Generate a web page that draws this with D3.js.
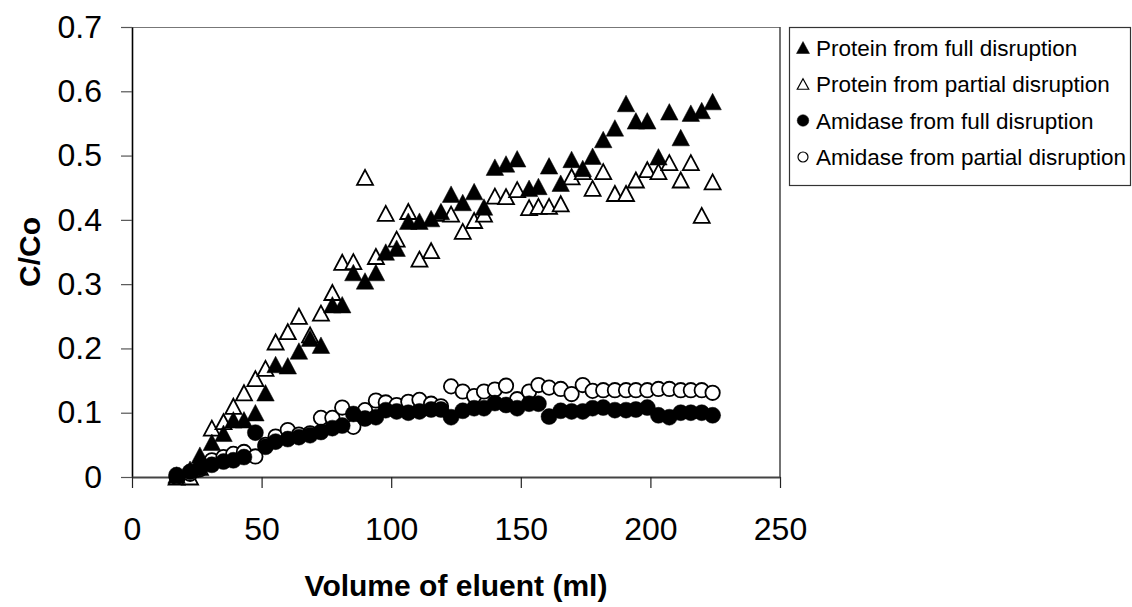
<!DOCTYPE html>
<html>
<head>
<meta charset="utf-8">
<script src="https://cdn.jsdelivr.net/npm/d3@7"></script>
<style>
    body { margin: 0; background: #fff; }
    svg { display: block; font-family: "Liberation Sans", Arial, sans-serif; }
</style>
</head>
<body>
<svg id="chart" width="1132" height="607"></svg>
<script>
// volume of eluent (ml)
const volume = [17.2, 22.4, 26.2, 30.8, 35.3, 39.1, 43.2, 47.6, 51.5, 55.4,
    60.1, 64.4, 68.7, 72.9, 77.3, 81.1, 85.4, 89.9, 94.1, 97.9,
    102.1, 106.6, 110.9, 115.4, 119.2, 123.1, 127.6, 132.0, 135.8, 140.0,
    144.3, 148.6, 153.2, 156.8, 160.9, 165.4, 169.6, 173.9, 177.7, 181.8,
    186.3, 190.6, 194.4, 198.8, 203.1, 207.3, 211.7, 215.6, 219.8, 224.0];

const proteinFull = [0.003, 0.012, 0.034, 0.054, 0.068, 0.089, 0.089, 0.100, 0.131, 0.175,
    0.173, 0.196, 0.216, 0.205, 0.268, 0.268, 0.318, 0.305, 0.318, 0.350,
    0.356, 0.398, 0.398, 0.402, 0.413, 0.440, 0.427, 0.444, 0.420, 0.482,
    0.487, 0.495, 0.449, 0.452, 0.484, 0.457, 0.494, 0.480, 0.499, 0.525,
    0.543, 0.581, 0.554, 0.554, 0.498, 0.568, 0.528, 0.566, 0.570, 0.584];

const proteinPartial = [0.000, 0.000, 0.015, 0.076, 0.086, 0.110, 0.131, 0.153, 0.169, 0.210,
    0.226, 0.250, 0.221, 0.255, 0.287, 0.334, 0.335, 0.466, 0.343, 0.410,
    0.370, 0.413, 0.339, 0.352, 0.410, 0.409, 0.382, 0.399, 0.409, 0.437,
    0.436, 0.447, 0.419, 0.421, 0.421, 0.425, 0.467, 0.475, 0.449, 0.475,
    0.441, 0.441, 0.462, 0.478, 0.475, 0.489, 0.462, 0.489, 0.407, 0.459];

const amidaseFull = [0.003, 0.008, 0.014, 0.019, 0.024, 0.026, 0.031, 0.069, 0.047, 0.055,
    0.059, 0.062, 0.065, 0.070, 0.076, 0.080, 0.098, 0.091, 0.093, 0.104,
    0.102, 0.100, 0.102, 0.105, 0.105, 0.093, 0.103, 0.107, 0.107, 0.115,
    0.112, 0.107, 0.114, 0.114, 0.094, 0.103, 0.102, 0.102, 0.107, 0.108,
    0.104, 0.104, 0.105, 0.108, 0.096, 0.093, 0.100, 0.100, 0.100, 0.096];

const amidasePartial = [0.000, 0.005, 0.012, 0.026, 0.031, 0.036, 0.039, 0.032, 0.050, 0.063,
    0.073, 0.066, 0.068, 0.092, 0.092, 0.108, 0.078, 0.104, 0.119, 0.116,
    0.112, 0.117, 0.120, 0.114, 0.110, 0.141, 0.133, 0.126, 0.133, 0.136,
    0.142, 0.121, 0.133, 0.143, 0.139, 0.137, 0.129, 0.143, 0.134, 0.135,
    0.135, 0.135, 0.135, 0.135, 0.137, 0.137, 0.135, 0.135, 0.135, 0.131];

const xTicks = [0, 50, 100, 150, 200, 250];
const yTicks = [0, 0.1, 0.2, 0.3, 0.4, 0.5, 0.6, 0.7];

const legendLabels = [
    "Protein from full disruption",
    "Protein from partial disruption",
    "Amidase from full disruption",
    "Amidase from partial disruption"
];

const svg = d3.select("#chart");
const plot = {left: 132, right: 780, top: 27, bottom: 477};

const x = d3.scaleLinear().domain([0, 250]).range([plot.left, plot.right]);
const y = d3.scaleLinear().domain([0, 0.7]).range([plot.bottom, plot.top]);

// frame: top and right borders
svg.append("line")
    .attr("x1", plot.left).attr("x2", plot.right)
    .attr("y1", plot.top + 0.5).attr("y2", plot.top + 0.5)
    .attr("stroke", "#777").attr("stroke-width", 1.2);
svg.append("line")
    .attr("x1", plot.right).attr("x2", plot.right)
    .attr("y1", plot.top).attr("y2", plot.bottom)
    .attr("stroke", "#444").attr("stroke-width", 1.5);

// axes
const yAxis = svg.append("g")
    .attr("transform", `translate(${plot.left},0)`)
    .call(d3.axisLeft(y).tickValues(yTicks).tickSize(11).tickSizeOuter(0).tickPadding(19)
        .tickFormat(d => d === 0 ? "0" : d3.format(".1f")(d)));
yAxis.select(".domain").attr("stroke", "#000").attr("stroke-width", 1.6);
yAxis.selectAll(".tick line").attr("stroke", "#555").attr("stroke-width", 1.2);
yAxis.selectAll(".tick text")
    .attr("font-size", 32).attr("fill", "#000")
    .style("font-family", "'Liberation Sans', Arial, sans-serif");

const xAxis = svg.append("g")
    .attr("transform", `translate(0,${plot.bottom})`)
    .call(d3.axisBottom(x).tickValues(xTicks).tickSize(11).tickSizeOuter(0).tickPadding(29));
xAxis.select(".domain").attr("stroke", "#444").attr("stroke-width", 2.2);
xAxis.selectAll(".tick line").attr("stroke", "#222").attr("stroke-width", 1.2);
xAxis.selectAll(".tick text")
    .attr("font-size", 32).attr("fill", "#000")
    .style("font-family", "'Liberation Sans', Arial, sans-serif");

// axis titles
svg.append("text")
    .attr("x", (plot.left + plot.right) / 2)
    .attr("y", 596)
    .attr("text-anchor", "middle")
    .attr("font-size", 30)
    .attr("font-weight", "bold")
    .text("Volume of eluent (ml)");

svg.append("text")
    .attr("transform", `translate(40,${(plot.top + plot.bottom) / 2}) rotate(-90)`)
    .attr("text-anchor", "middle")
    .attr("font-size", 30)
    .attr("font-weight", "bold")
    .text("C/Co");

// markers
function trianglePath(w, h) {
    return `M0,${-h / 2}L${w / 2},${h / 2}L${-w / 2},${h / 2}Z`;
}

const marks = svg.append("g");

function drawSeries(values, shape, filled) {
    const pts = volume.map((v, i) => ({v: v, c: values[i]}));
    const sel = marks.append("g").selectAll("path")
        .data(pts)
        .join(shape === "triangle" ? "path" : "circle");
    if (shape === "triangle") {
        sel.attr("transform", d => `translate(${x(d.v)},${y(d.c)})`)
            .attr("d", filled ? trianglePath(17.5, 16.5) : trianglePath(16, 15));
    } else {
        sel.attr("cx", d => x(d.v))
            .attr("cy", d => y(d.c))
            .attr("r", filled ? 8 : 7.2);
    }
    sel.attr("fill", filled ? "#000" : "#fff")
        .attr("stroke", "#000")
        .attr("stroke-width", filled ? 0.5 : 1.8)
        .attr("stroke-linejoin", "miter");
}

drawSeries(proteinPartial, "triangle", false);
drawSeries(amidasePartial, "circle", false);
drawSeries(proteinFull, "triangle", true);
drawSeries(amidaseFull, "circle", true);

// legend
const legend = svg.append("g");
legend.append("rect")
    .attr("x", 789.5).attr("y", 27.5)
    .attr("width", 341).attr("height", 158)
    .attr("fill", "#fff")
    .attr("stroke", "#333").attr("stroke-width", 1.2);

const legendShapes = [
    {shape: "triangle", filled: true},
    {shape: "triangle", filled: false},
    {shape: "circle", filled: true},
    {shape: "circle", filled: false}
];

legendLabels.forEach((label, i) => {
    const cy = 47.5 + i * 36.5;
    const s = legendShapes[i];
    if (s.shape === "triangle") {
        legend.append("path")
            .attr("transform", `translate(803,${cy})`)
            .attr("d", s.filled ? trianglePath(13, 12) : trianglePath(11.5, 10.5))
            .attr("fill", s.filled ? "#000" : "#fff")
            .attr("stroke", "#000")
            .attr("stroke-width", s.filled ? 0.5 : 1.2);
    } else {
        legend.append("circle")
            .attr("cx", 803).attr("cy", cy)
            .attr("r", s.filled ? 5.8 : 5)
            .attr("fill", s.filled ? "#000" : "#fff")
            .attr("stroke", "#000")
            .attr("stroke-width", s.filled ? 0.5 : 1.2);
    }
    legend.append("text")
        .attr("x", 816)
        .attr("y", cy + 8)
        .attr("font-size", 22.5)
        .text(label);
});
</script>
</body>
</html>
